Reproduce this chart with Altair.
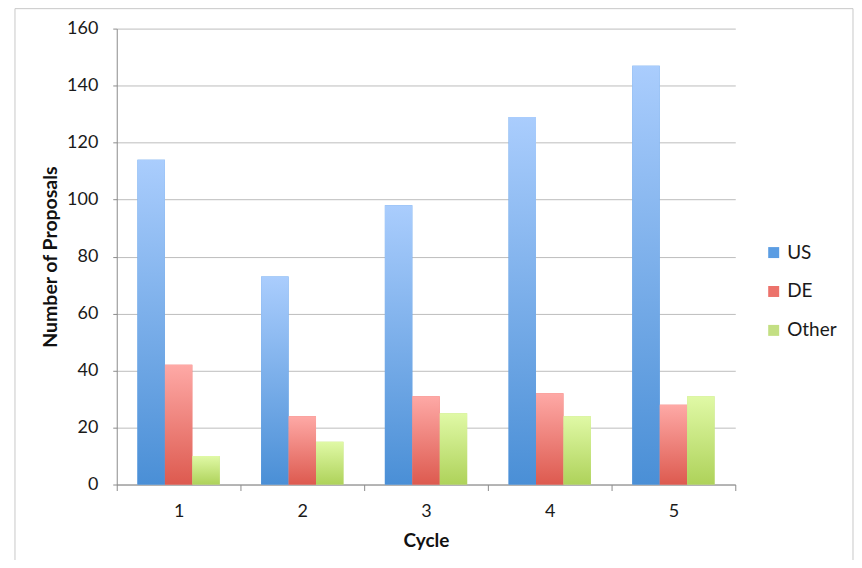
import altair as alt
import pandas as pd

cycles = ["1", "2", "3", "4", "5"]
series = ["US", "DE", "Other"]
us_values = [114, 73, 98, 129, 147]
de_values = [42, 24, 31, 32, 28]
other_values = [10, 15, 25, 24, 31]
y_ticks = [0, 20, 40, 60, 80, 100, 120, 140, 160]

rows = []
for name, vals in zip(series, [us_values, de_values, other_values]):
    for c, v in zip(cycles, vals):
        rows.append({"Cycle": c, "Series": name, "Value": v})
df = pd.DataFrame(rows)

solid_colors = ["#5b9de3", "#ec726b", "#c3df83"]
gradients = {
    "US": ("#aacdfd", "#4a8fd6"),
    "DE": ("#fea9a6", "#dd5a4f"),
    "Other": ("#e0f9a6", "#aed25a"),
}

FONT = "Lato"

x_enc = alt.X("Cycle:N", sort=cycles, title="Cycle",
              scale=alt.Scale(paddingInner=0, paddingOuter=0),
              axis=alt.Axis(labelAngle=0, tickBand="extent", tickSize=6,
                            labelPadding=12, titlePadding=11, titleFontSize=19,
                            domainColor="#8c8c8c", tickColor="#8c8c8c",
                            grid=False))
xoff_enc = alt.XOffset("Series:N", sort=series,
                       scale=alt.Scale(domain=series, paddingInner=0, paddingOuter=0.755))
y_enc = alt.Y("Value:Q", title="Number of Proposals",
              scale=alt.Scale(domain=[0, 160], nice=False),
              axis=alt.Axis(values=y_ticks, tickSize=4, labelPadding=15,
                            titlePadding=6, titleFontSize=19.5, domainColor="#8c8c8c",
                            tickColor="#8c8c8c", gridColor="#bdbdbd"))

base = alt.Chart(df)

solid = base.mark_bar().encode(
    x=x_enc, xOffset=xoff_enc, y=y_enc,
    color=alt.Color("Series:N", sort=series,
                    scale=alt.Scale(domain=series, range=solid_colors),
                    legend=alt.Legend(title=None, orient="none", legendX=649, legendY=215,
                                      symbolType="square", symbolSize=121,
                                      symbolStrokeWidth=0, rowPadding=19,
                                      labelFontSize=19, labelFont=FONT,
                                      labelColor="#1a1a1a", padding=0, labelOffset=4)),
)

layers = [solid]
for name in series:
    top, bottom = gradients[name]
    grad = alt.LinearGradient(gradient="linear", x1=0, y1=0, x2=0, y2=1,
                              stops=[alt.GradientStop(offset=0, color=top),
                                     alt.GradientStop(offset=1, color=bottom)])
    layers.append(
        base.transform_filter(alt.datum.Series == name)
        .mark_bar(fill=grad)
        .encode(x=x_enc, xOffset=xoff_enc, y=y_enc)
    )

frame = alt.Chart(pd.DataFrame({"k": [0]})).mark_rect(
    fill=None, stroke="#c8c8c8", strokeWidth=1
).encode(x=alt.value(-102), x2=alt.value(738), y=alt.value(-20), y2=alt.value(560))

chart = alt.layer(frame, *layers).properties(
    width=620, height=457,
    autosize=alt.AutoSizeParams(type="none"),
    padding={"left": 109, "top": 20, "right": 119, "bottom": 75},
).configure_view(stroke=None).configure_axis(
    labelFont=FONT, titleFont=FONT, labelFontSize=18,
    labelColor="#1a1a1a", titleColor="#111111", titleFontWeight="bold",
)

chart.save("out.html", embed_options={"renderer": "svg", "actions": False})
